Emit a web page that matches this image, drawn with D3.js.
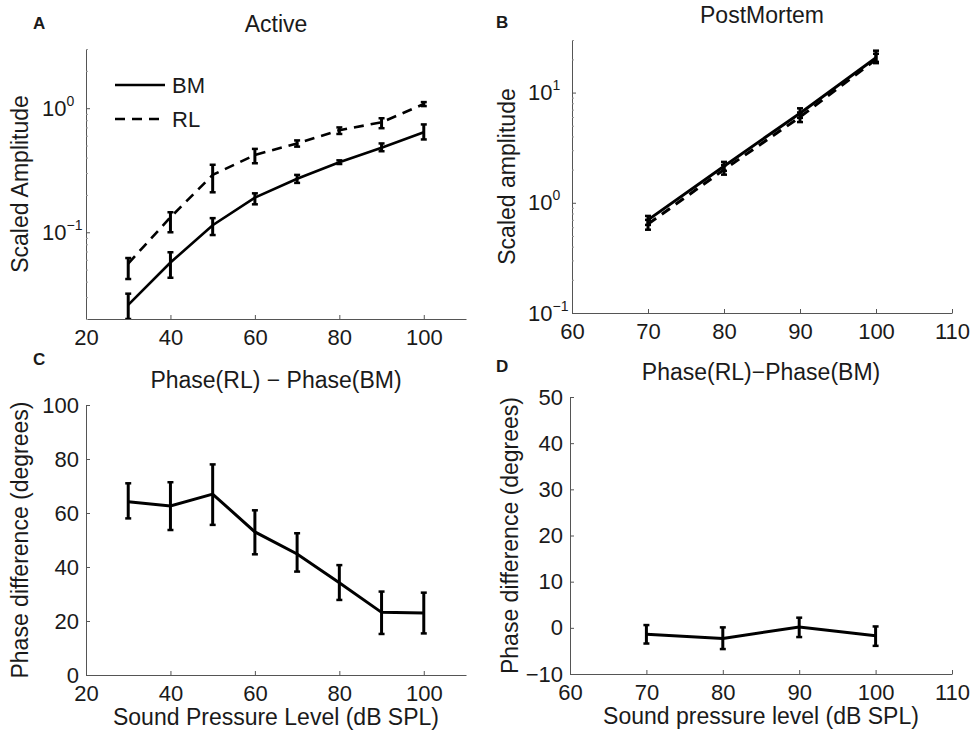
<!DOCTYPE html>
<html>
<head>
<meta charset="utf-8">
<script src="https://cdn.jsdelivr.net/npm/d3@7"></script>
<style>
  body { margin: 0; background: #fff; }
  svg { font-family: "Liberation Sans", Arial, Helvetica, sans-serif; }
  text { fill: #1a1a1a; }
</style>
</head>
<body>
<svg id="chart" width="973" height="733"></svg>
<script>
'use strict';

// ---- data ----
const splActive = [30, 40, 50, 60, 70, 80, 90, 100];
const bmActive   = [0.026, 0.057, 0.114, 0.19, 0.27, 0.367, 0.48, 0.64];
const bmActiveLo = [0.020, 0.043, 0.095, 0.168, 0.25, 0.355, 0.45, 0.56];
const bmActiveHi = [0.032, 0.069, 0.13, 0.206, 0.29, 0.38, 0.52, 0.74];
const rlActive   = [0.056, 0.132, 0.29, 0.42, 0.52, 0.665, 0.77, 1.08];
const rlActiveLo = [0.042, 0.10, 0.21, 0.36, 0.49, 0.62, 0.69, 1.04];
const rlActiveHi = [0.062, 0.145, 0.35, 0.47, 0.55, 0.70, 0.83, 1.12];

const splPost = [70, 80, 90, 100];
const bmPost   = [0.70, 2.15, 6.5, 20.7];
const bmPostLo = [0.63, 1.95, 5.9, 19];
const bmPostHi = [0.76, 2.35, 7.2, 24];
const rlPost   = [0.64, 2.0, 6.0, 20];
const rlPostLo = [0.57, 1.8, 5.4, 18.5];
const rlPostHi = [0.70, 2.2, 6.6, 22.5];

const phaseActive   = [64.2, 62.6, 67, 53, 44.8, 34.2, 23.2, 23];
const phaseActiveLo = [58, 53.7, 55.6, 44.7, 38.3, 27.8, 15.2, 15.4];
const phaseActiveHi = [71, 71.4, 78, 61, 52.5, 40.7, 30.9, 30.5];

const phasePost   = [-1.4, -2.3, 0.2, -1.7];
const phasePostLo = [-3.4, -4.6, -2.0, -3.9];
const phasePostHi = [0.6, 0.1, 2.2, 0.3];

const xTicksActive = [20, 40, 60, 80, 100];
const xTicksPost = [60, 70, 80, 90, 100, 110];
const yTicksAmpActive = [0.1, 1];
const yTicksAmpPost = [0.1, 1, 10];
const yTicksPhaseActive = [0, 20, 40, 60, 80, 100];
const yTicksPhasePost = [-10, 0, 10, 20, 30, 40, 50];

const seriesNames = ["BM", "RL"];

const svg = d3.select("#chart");
const axisColor = "#555";

function series(xs, ys, lo, hi) {
	return xs.map(function (x, i) {
		return {x: x, y: ys[i], lo: lo[i], hi: hi[i]};
	});
}

function supLabel(sel, d) {
	let e = Math.round(Math.log10(d));
	sel.append("tspan").text("10");
	sel.append("tspan")
		.attr("font-size", 14)
		.attr("dy", -10)
		.text(e < 0 ? "\u2212" + (-e) : String(e));
}

function drawPanel(p) {
	let g = svg.append("g").attr("transform", "translate(" + p.left + "," + p.top + ")");

	let x = d3.scaleLinear().domain(p.xDomain).range([0, p.width]);
	let y = (p.log ? d3.scaleLog() : d3.scaleLinear()).domain(p.yDomain).range([p.height, 0]);

	let clipId = "clip-" + p.letter;
	g.append("clipPath").attr("id", clipId)
		.append("rect").attr("x", 0).attr("y", 0).attr("width", p.width).attr("height", p.height);

	// x axis (ticks inward, MATLAB style)
	let xa = g.append("g")
		.attr("transform", "translate(0," + p.height + ")")
		.call(d3.axisBottom(x).tickValues(p.xTicks).tickSizeInner(-4).tickSizeOuter(0).tickPadding(10));
	// y axis
	let ya = g.append("g")
		.call(d3.axisLeft(y).tickValues(p.yTicks).tickSizeInner(-4).tickSizeOuter(0).tickPadding(7)
			.tickFormat(p.log ? function () { return ""; } : d3.format("d")));

	if (p.log) {
		ya.selectAll(".tick").append("text")
			.attr("x", -44)
			.attr("dy", "0.32em")
			.attr("text-anchor", "start")
			.attr("font-size", 22)
			.attr("fill", "#1a1a1a")
			.each(function (d) { supLabel(d3.select(this), d); });
		// minor log ticks
		let minor = y.ticks().filter(function (v) { return p.yTicks.indexOf(v) < 0; });
		g.append("g")
			.call(d3.axisLeft(y).tickValues(minor).tickSizeInner(-2).tickSizeOuter(0).tickFormat(""))
			.call(function (s) { s.select(".domain").remove(); })
			.selectAll("line").attr("stroke", "#999");
	}
	[xa, ya].forEach(function (a) {
		a.select(".domain").attr("stroke", axisColor);
		a.selectAll(".tick line").attr("stroke", axisColor);
		a.selectAll("text").attr("font-size", 22).attr("fill", "#1a1a1a");
		a.attr("font-family", null);
	});
	ya.selectAll(".tick text").filter(function () { return !p.log; }).text(function (d) {
		return d < 0 ? "\u2212" + (-d) : d;
	});

	let line = d3.line().x(function (d) { return x(d.x); }).y(function (d) { return y(d.y); });
	let plot = g.append("g").attr("clip-path", "url(#" + clipId + ")");

	p.series.forEach(function (s) {
		plot.append("path")
			.datum(s.data)
			.attr("fill", "none")
			.attr("stroke", "#000")
			.attr("stroke-width", s.width || 2.6)
			.attr("stroke-dasharray", s.dash || null)
			.attr("d", line);

		let eb = plot.selectAll(null).data(s.data).enter().append("g").attr("class", "errbar");
		eb.append("line")
			.attr("x1", function (d) { return x(d.x); })
			.attr("x2", function (d) { return x(d.x); })
			.attr("y1", function (d) { return y(d.lo); })
			.attr("y2", function (d) { return y(d.hi); })
			.attr("stroke", "#000").attr("stroke-width", 3);
		["lo", "hi"].forEach(function (k) {
			eb.append("line")
				.attr("x1", function (d) { return x(d.x) - 3; })
				.attr("x2", function (d) { return x(d.x) + 3; })
				.attr("y1", function (d) { return y(d[k]); })
				.attr("y2", function (d) { return y(d[k]); })
				.attr("stroke", "#000").attr("stroke-width", 2.5);
		});
	});

	// title, axis labels, panel letter
	g.append("text")
		.attr("x", p.width / 2).attr("y", p.titleY)
		.attr("text-anchor", "middle").attr("font-size", 23)
		.text(p.title);
	if (p.xLabel) {
		g.append("text")
			.attr("x", p.width / 2).attr("y", p.height + 50)
			.attr("text-anchor", "middle").attr("font-size", 23)
			.text(p.xLabel);
	}
	g.append("text")
		.attr("transform", "translate(" + p.yLabelX + "," + (p.height / 2) + ") rotate(-90)")
		.attr("text-anchor", "middle").attr("font-size", 23)
		.text(p.yLabel);
	svg.append("text")
		.attr("x", p.letterX).attr("y", p.letterY)
		.attr("font-size", 17).attr("font-weight", "bold")
		.text(p.letter);

	return {g: g, x: x, y: y};
}

let panelA = drawPanel({
	letter: "A", letterX: 33, letterY: 29,
	left: 86, top: 49, width: 380, height: 270,
	xDomain: [20, 110], yDomain: [0.02, 3], log: true,
	xTicks: xTicksActive, yTicks: yTicksAmpActive,
	title: "Active", titleY: -17,
	yLabel: "Scaled Amplitude", yLabelX: -58,
	series: [
		{data: series(splActive, bmActive, bmActiveLo, bmActiveHi)},
		{data: series(splActive, rlActive, rlActiveLo, rlActiveHi), dash: "10,7"}
	]
});

// legend for panel A
let legend = panelA.g.append("g").attr("transform", "translate(29,36)");
seriesNames.forEach(function (name, i) {
	legend.append("line")
		.attr("x1", 0).attr("x2", 50)
		.attr("y1", i * 34).attr("y2", i * 34)
		.attr("stroke", "#000").attr("stroke-width", 2.6)
		.attr("stroke-dasharray", i === 1 ? "10,7" : null);
	legend.append("text")
		.attr("x", 57).attr("y", i * 34 + 8)
		.attr("font-size", 22)
		.text(name);
});

drawPanel({
	letter: "B", letterX: 496, letterY: 28,
	left: 572, top: 40, width: 380, height: 273,
	xDomain: [60, 110], yDomain: [0.1, 30], log: true,
	xTicks: xTicksPost, yTicks: yTicksAmpPost,
	title: "PostMortem", titleY: -17,
	yLabel: "Scaled amplitude", yLabelX: -57,
	series: [
		{data: series(splPost, rlPost, rlPostLo, rlPostHi), dash: "10,7", width: 3},
		{data: series(splPost, bmPost, bmPostLo, bmPostHi), width: 3}
	]
});

drawPanel({
	letter: "C", letterX: 33, letterY: 365,
	left: 86, top: 405, width: 380, height: 270,
	xDomain: [20, 110], yDomain: [0, 100], log: false,
	xTicks: xTicksActive, yTicks: yTicksPhaseActive,
	title: "Phase(RL) \u2212 Phase(BM)", titleY: -17,
	xLabel: "Sound Pressure Level (dB SPL)",
	yLabel: "Phase difference (degrees)", yLabelX: -58,
	series: [
		{data: series(splActive, phaseActive, phaseActiveLo, phaseActiveHi), width: 3}
	]
});

drawPanel({
	letter: "D", letterX: 496, letterY: 372,
	left: 570, top: 397, width: 382, height: 277,
	xDomain: [60, 110], yDomain: [-10, 50], log: false,
	xTicks: xTicksPost, yTicks: yTicksPhasePost,
	title: "Phase(RL)\u2212Phase(BM)", titleY: -17,
	xLabel: "Sound pressure level (dB SPL)",
	yLabel: "Phase difference (degrees)", yLabelX: -52,
	series: [
		{data: series(splPost, phasePost, phasePostLo, phasePostHi), width: 3}
	]
});
</script>
</body>
</html>
